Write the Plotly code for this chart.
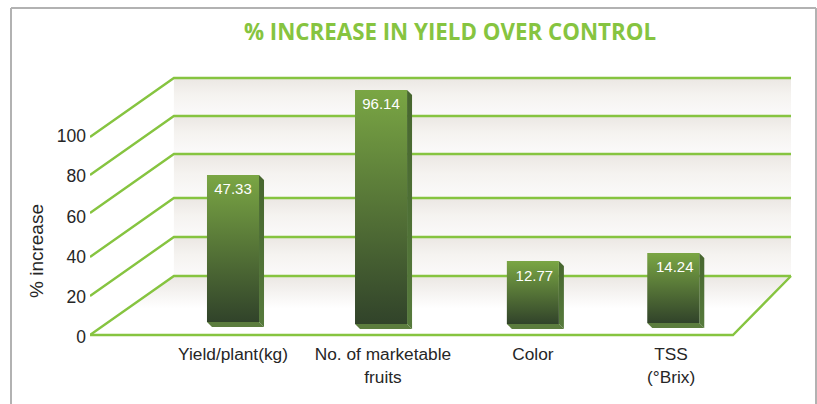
import plotly.graph_objects as go

# ---- data ----
categories = ["Yield/plant(kg)", "No. of marketable<br>fruits", "Color", "TSS<br>(°Brix)"]
value_labels = ["47.33", "96.14", "12.77", "14.24"]
# drawn bar extents on the printed % axis (the source's bars are not to the scale of their labels)
bar_tops = [80.6, 122.9, 37.8, 41.8]
bar_bases = [7.5, 6.5, 6.5, 7.0]
bar_positions = [0.0, 1.007, 2.04, 2.995]
value_label_positions = [0.0, 1.007, 2.05, 3.005]
label_positions = [0.0, 1.02, 2.04, 2.98]
y_ticks = [0, 20, 40, 60, 80, 100]
grid_levels = [1.0, 20.4, 39.8, 61.7, 80.6, 99.5]

# ---- style ----
GREEN = "#86c440"
FONT = "Liberation Sans"
TEXT = "#262626"
BAR_HALF = 0.177
SIDE_X, SIDE_Y = 0.034, 2.5
DEPTH_X, DEPTH_Y = 0.571, 29.35
LEFT, RIGHT_FRONT, RIGHT_BACK = -0.973, 3.401, 3.796
LABEL_DROP = 4.1

fig = go.Figure()


def poly(xs, ys, **kw):
    fig.add_trace(go.Scatter(x=xs + xs[:1], y=ys + ys[:1], mode="none", fill="toself",
                             hoverinfo="skip", showlegend=False, **kw))


def vgrad(bottom, top):
    return dict(type="vertical", colorscale=[[0, bottom], [1, top]])


BACK = LEFT + DEPTH_X
# wall bands
for low, high in zip(grid_levels[:-1], grid_levels[1:]):
    poly([BACK, RIGHT_BACK, RIGHT_BACK, BACK],
         [low + DEPTH_Y, low + DEPTH_Y, high + DEPTH_Y, high + DEPTH_Y],
         fillgradient=dict(type="vertical",
                           colorscale=[[0, "#fbfafa"], [0.55, "#f5f3f0"], [1, "#ebe7e3"]]))
# floor
f = grid_levels[0]
poly([LEFT, RIGHT_FRONT, RIGHT_BACK, BACK], [f, f, f + DEPTH_Y, f + DEPTH_Y],
     fillgradient=dict(type="vertical", colorscale=[[0, "#ffffff"], [0.45, "#ffffff"], [1, "#ebe7e3"]]))

# grid lines
for lv in grid_levels:
    fig.add_trace(go.Scatter(x=[LEFT, BACK, RIGHT_BACK], y=[lv, lv + DEPTH_Y, lv + DEPTH_Y], mode="lines",
                             line=dict(color=GREEN, width=2.4), hoverinfo="skip", showlegend=False))
fig.add_trace(go.Scatter(x=[LEFT, RIGHT_FRONT, RIGHT_BACK], y=[f, f, f + DEPTH_Y], mode="lines",
                         line=dict(color=GREEN, width=2.4), hoverinfo="skip", showlegend=False))

# bars
for pos, top, base in zip(bar_positions, bar_tops, bar_bases):
    l, r = pos - BAR_HALF, pos + BAR_HALF
    # bottom face
    poly([l, r, r + SIDE_X, l + SIDE_X], [base, base, base - SIDE_Y, base - SIDE_Y], fillcolor="#5c7d3e")
    # side face
    poly([r, r + SIDE_X, r + SIDE_X, r], [top, top - SIDE_Y, base - SIDE_Y, base],
         fillgradient=vgrad("#567a3c", "#47662f"))
    # front face
    poly([l, r, r, l], [base, base, top, top], fillgradient=vgrad("#31432a", "#7aa644"))

fig.add_trace(go.Scatter(x=value_label_positions, y=[t - LABEL_DROP for t in bar_tops], mode="text",
                         text=value_labels, textposition="bottom center",
                         textfont=dict(family=FONT, size=15, color="#ffffff"),
                         hoverinfo="skip", showlegend=False))

# frame
frame = dict(type="line", xref="paper", yref="paper", line=dict(color="#b2b2b2", width=2))
PW, PH = 705, 282


def px(x):
    return (x - 90) / PW


def py(y):
    return (342 - y) / PH


fig.update_layout(
    width=817, height=404,
    margin=dict(l=90, r=22, t=60, b=62, autoexpand=False),
    paper_bgcolor="#ffffff", plot_bgcolor="rgba(0,0,0,0)",
    font=dict(family=FONT, size=15, color=TEXT),
    showlegend=False,
    xaxis=dict(range=[(90 - 233) / 147, (795 - 233) / 147], tickmode="array", tickvals=label_positions,
               ticktext=categories, showgrid=False, zeroline=False, showline=False, ticks="",
               tickfont=dict(family=FONT, size=17.3, color=TEXT), fixedrange=True),
    yaxis=dict(range=[-2.49, 137.8], tickmode="array", tickvals=y_ticks, showgrid=False, zeroline=False,
               showline=False, ticks="", ticklabelstandoff=3,
               tickfont=dict(family=FONT, size=17.5, color=TEXT), fixedrange=True),
    title=dict(text="<b>% INCREASE IN YIELD OVER CONTROL</b>", x=450 / 817, xanchor="center",
               y=1 - 32 / 404, yanchor="middle",
               font=dict(family="Open Sans", size=22.3, color=GREEN)),
    shapes=[
        dict(frame, x0=px(11), x1=px(11), y0=py(404), y1=py(8)),
        dict(frame, x0=px(11), x1=px(816), y0=py(8), y1=py(8)),
        dict(frame, x0=px(816), x1=px(816), y0=py(8), y1=py(404)),
    ],
    annotations=[dict(text="% increase", textangle=-90, xref="paper", yref="paper", x=px(37), y=py(251),
                      xanchor="center", yanchor="middle", showarrow=False,
                      font=dict(family=FONT, size=19, color=TEXT))],
)

fig.write_html("out.html", config=dict(displayModeBar=False),
               post_script="document.body.style.margin='0';document.body.style.overflow='hidden';")
